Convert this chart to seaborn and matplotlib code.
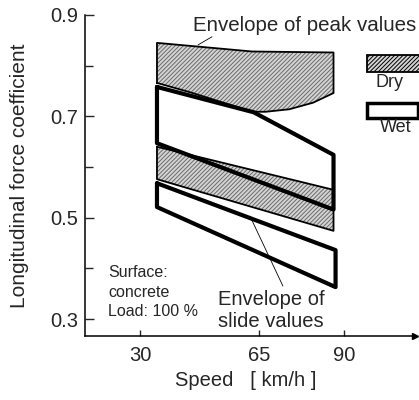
import matplotlib
matplotlib.use("Agg")
import matplotlib.pyplot as plt
from matplotlib.patches import Rectangle
import pandas as pd
import seaborn as sns

# Speed axis ticks [km/h] and coefficient ticks
speed_ticks = [30, 65, 90]
mu_major = [0.3, 0.5, 0.7, 0.9]
mu_minor = [0.4, 0.6, 0.8]

# Dry surface, envelope of peak values (closed outline)
dry_peak_speed = [35, 35, 63, 87, 87, 81, 74, 67, 63, 55, 45, 35]
dry_peak_mu = [0.766, 0.845, 0.828, 0.826, 0.746, 0.727, 0.714, 0.709, 0.709, 0.726, 0.747, 0.766]

# Wet surface, envelope of peak values
wet_peak_speed = [35, 63.5, 87, 87, 35, 35]
wet_peak_mu = [0.758, 0.708, 0.624, 0.516, 0.647, 0.758]

# Dry surface, envelope of slide values
dry_slide_speed = [35, 87, 87, 35, 35]
dry_slide_mu = [0.640, 0.555, 0.474, 0.576, 0.640]

# Wet surface, envelope of slide values
wet_slide_speed = [35, 87.6, 87.6, 35, 35]
wet_slide_mu = [0.568, 0.436, 0.363, 0.521, 0.568]

sns.set_style("ticks")
plt.rcParams["font.family"] = ["Liberation Sans", "DejaVu Sans"]
plt.rcParams["hatch.linewidth"] = 0.7

fig = plt.figure(figsize=(4.19, 4.0), dpi=100)
ax = fig.add_axes([85 / 419, 64 / 400, 330 / 419, 321 / 400])

dry_face = "#d4d4d4"
hatch_col = "#6a6a6a"
dry_hatch = "////////"

# hatched dry bands
for sp, mu in [(dry_peak_speed, dry_peak_mu), (dry_slide_speed, dry_slide_mu)]:
    ax.fill(sp, mu, facecolor=dry_face, edgecolor=hatch_col, linewidth=0,
            hatch=dry_hatch, zorder=1)
    sns.lineplot(x=sp, y=mu, sort=False, estimator=None, color="black",
                 linewidth=1.3, ax=ax, zorder=2)

# wet bands: thick outlines only
for sp, mu in [(wet_peak_speed, wet_peak_mu), (wet_slide_speed, wet_slide_mu)]:
    df = pd.DataFrame({"speed": sp, "mu": mu})
    sns.lineplot(data=df, x="speed", y="mu", sort=False, estimator=None,
                 color="black", linewidth=3.0, ax=ax, zorder=3)

ax.set_xlim(13.8, 111)
ax.set_ylim(0.2665, 0.9)
ax.set_xticks(speed_ticks)
ax.set_xticklabels([str(v) for v in speed_ticks])
ax.set_yticks(mu_major)
ax.set_yticklabels([f"{v:.1f}" for v in mu_major])
ax.set_yticks(mu_minor, minor=True)
ax.tick_params(axis="y", which="major", direction="in", length=6.5, width=1.0,
               labelsize=14.5, pad=5)
ax.tick_params(axis="y", which="minor", direction="in", length=5.5, width=1.0)
ax.tick_params(axis="x", which="major", direction="in", length=4.5, width=1.0,
               labelsize=14.5, pad=7)
for side in ("top", "right"):
    ax.spines[side].set_visible(False)
for side in ("left", "bottom"):
    ax.spines[side].set_linewidth(1.1)
    ax.spines[side].set_color("black")

# arrow head at the end of the speed axis
ax.plot(1, 0, ">", color="black", markersize=4, transform=ax.transAxes, clip_on=False)

ax.set_xlabel("Speed   [ km/h ]", fontsize=14.5)
ax.set_ylabel("Longitudinal force coefficient", fontsize=15)
ax.xaxis.set_label_coords(0.488, -0.108)
ax.yaxis.set_label_coords(-0.17, 0.5)

# annotations
ax.text(45.6, 0.880, "Envelope of peak values", fontsize=14.8, ha="left", va="center",
        clip_on=False)
ax.plot([51.2, 47.1], [0.857, 0.841], color="black", linewidth=0.6)

ax.text(52.9, 0.317, "Envelope of\nslide values", fontsize=14.5, ha="left", va="center",
        linespacing=1.17)
ax.plot([62.4, 72.1], [0.503, 0.365], color="black", linewidth=0.6)

ax.text(20.6, 0.406, "Surface:\nconcrete\nLoad: 100 %", fontsize=11.5, ha="left",
        va="top", linespacing=1.35)

# key for dry / wet
ax.add_patch(Rectangle((0.8545, 0.822), 0.18, 0.053, transform=ax.transAxes,
                       facecolor=dry_face, hatch=dry_hatch, edgecolor="black",
                       linewidth=1.3, clip_on=False))
ax.text(0.924, 0.791, "Dry", fontsize=13, ha="center", va="center", transform=ax.transAxes)
ax.add_patch(Rectangle((0.8545, 0.679), 0.1545, 0.047, transform=ax.transAxes,
                       facecolor="white", edgecolor="black", linewidth=2.5,
                       clip_on=False))
ax.text(0.942, 0.648, "Wet", fontsize=13, ha="center", va="center", transform=ax.transAxes)

fig.savefig("out.png", dpi=100)
